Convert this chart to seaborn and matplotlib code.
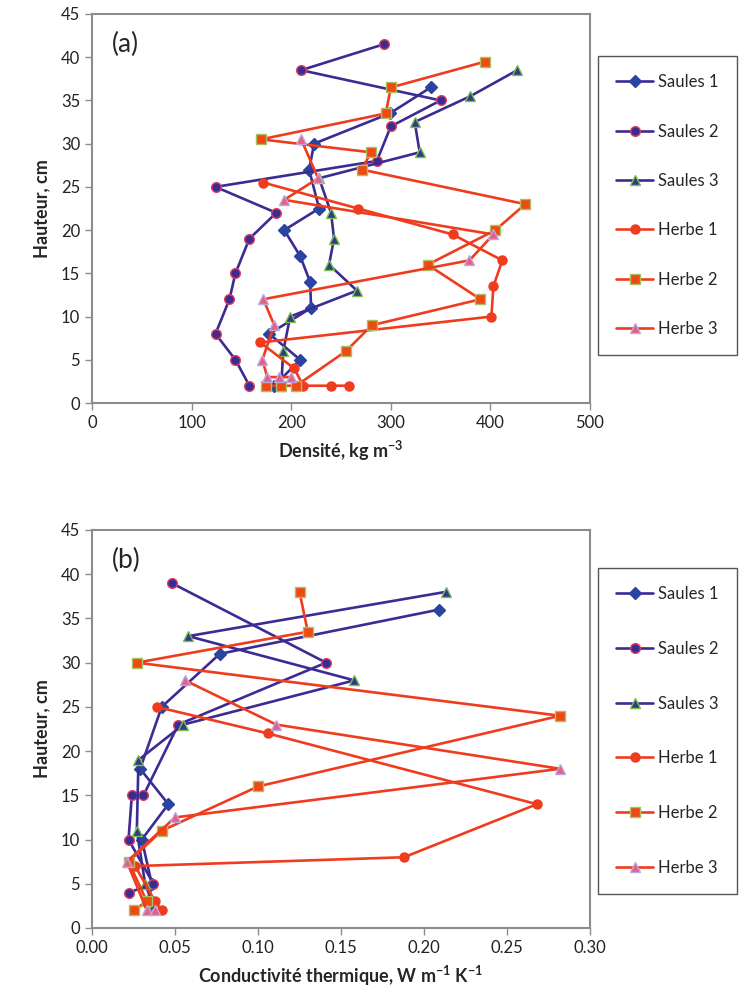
import matplotlib
matplotlib.use("Agg")
import matplotlib.pyplot as plt
import seaborn as sns
import pandas as pd

# ---- data ----
series_names = ["Saules 1", "Saules 2", "Saules 3", "Herbe 1", "Herbe 2", "Herbe 3"]

# (a) density, kg m-3 vs height, cm
dens_saules1 = [340, 299, 223, 218, 228, 193, 209, 219, 220, 178, 209, 183]
h_dens_saules1 = [36.5, 33.5, 30, 27, 22.5, 20, 17, 14, 11, 8, 5, 2]
dens_saules2 = [293, 210, 350, 300, 286, 124, 185, 158, 144, 138, 124, 144, 158]
h_dens_saules2 = [41.5, 38.5, 35, 32, 28, 25, 22, 19, 15, 12, 8, 5, 2]
dens_saules3 = [427, 380, 324, 329, 228, 240, 243, 238, 266, 199, 192, 190]
h_dens_saules3 = [38.5, 35.5, 32.5, 29, 26, 22, 19, 16, 13, 10, 6, 2]
dens_herbe1 = [172, 267, 362, 412, 403, 401, 169, 203, 212, 240, 258]
h_dens_herbe1 = [25.5, 22.5, 19.5, 16.5, 13.5, 10, 7, 4, 2, 2, 2]
dens_herbe2 = [395, 300, 295, 170, 280, 271, 435, 405, 337, 390, 281, 255, 205, 190, 175]
h_dens_herbe2 = [39.5, 36.5, 33.5, 30.5, 29, 27, 23, 20, 16, 12, 9, 6, 2, 2, 2]
dens_herbe3 = [210, 227, 193, 403, 379, 172, 183, 171, 176, 188, 200]
h_dens_herbe3 = [30.5, 26, 23.5, 19.5, 16.5, 12, 9, 5, 3, 3, 3]

# (b) thermal conductivity, W m-1 K-1 vs height, cm
cond_saules1 = [0.209, 0.077, 0.042, 0.029, 0.046, 0.030, 0.036, 0.034]
h_cond_saules1 = [36, 31, 25, 18, 14, 10, 5, 3]
cond_saules2 = [0.048, 0.141, 0.052, 0.031, 0.024, 0.022, 0.037, 0.022]
h_cond_saules2 = [39, 30, 23, 15, 15, 10, 5, 4]
cond_saules3 = [0.213, 0.058, 0.158, 0.055, 0.028, 0.027, 0.032, 0.037]
h_cond_saules3 = [38, 33, 28, 23, 19, 11, 5, 2.5]
cond_herbe1 = [0.039, 0.106, 0.268, 0.188, 0.026, 0.038, 0.042]
h_cond_herbe1 = [25, 22, 14, 8, 7, 3, 2]
cond_herbe2 = [0.125, 0.130, 0.027, 0.282, 0.100, 0.042, 0.022, 0.033, 0.025]
h_cond_herbe2 = [38, 33.5, 30, 24, 16, 11, 7.5, 3, 2]
cond_herbe3 = [0.056, 0.111, 0.282, 0.050, 0.021, 0.033, 0.038]
h_cond_herbe3 = [28, 23, 18, 12.5, 7.5, 2, 2]

dens_x = [dens_saules1, dens_saules2, dens_saules3, dens_herbe1, dens_herbe2, dens_herbe3]
dens_y = [h_dens_saules1, h_dens_saules2, h_dens_saules3, h_dens_herbe1, h_dens_herbe2, h_dens_herbe3]
cond_x = [cond_saules1, cond_saules2, cond_saules3, cond_herbe1, cond_herbe2, cond_herbe3]
cond_y = [h_cond_saules1, h_cond_saules2, h_cond_saules3, h_cond_herbe1, h_cond_herbe2, h_cond_herbe3]

# ---- styles ----
SAULE = "#3d2b94"
HERBE = "#f03c1e"
styles = {
    "Saules 1": dict(color=SAULE, marker="D", mfc="#2a44a0", mec="#2a44a0", ms=6),
    "Saules 2": dict(color=SAULE, marker="o", mfc="#3d2b94", mec="#e0405a", ms=7),
    "Saules 3": dict(color=SAULE, marker="^", mfc="#2e3d8a", mec="#7cbf4a", ms=7),
    "Herbe 1": dict(color=HERBE, marker="o", mfc=HERBE, mec=HERBE, ms=6.5),
    "Herbe 2": dict(color=HERBE, marker="s", mfc="#f04a14", mec="#a8c060", ms=6.5),
    "Herbe 3": dict(color=HERBE, marker="^", mfc="#e86080", mec="#b8a8e8", ms=6.5),
}

sns.set_style("white")
plt.rcParams["font.family"] = ["Lato", "DejaVu Sans"]
plt.rcParams["mathtext.default"] = "regular"

fig = plt.figure(figsize=(7.44, 10), dpi=100)
ax_a = fig.add_axes([92 / 744, 1 - 403 / 1000, 498 / 744, 389 / 1000])
ax_b = fig.add_axes([92 / 744, 1 - 928 / 1000, 498 / 744, 398 / 1000])


def draw_panel(ax, xs, ys):
    for name, x, y in zip(series_names, xs, ys):
        df = pd.DataFrame({"x": x, "y": y})
        st = styles[name]
        sns.lineplot(data=df, x="x", y="y", ax=ax, sort=False, estimator=None,
                     color=st["color"], lw=1.9, marker=st["marker"],
                     markerfacecolor=st["mfc"], markeredgecolor=st["mec"],
                     markeredgewidth=1.0, markersize=st["ms"], label=name)
    ax.set_ylim(0, 45)
    ax.set_yticks(range(0, 46, 5))
    for sp in ax.spines.values():
        sp.set_color("#8c8c8c")
        sp.set_linewidth(1.5)
    ax.tick_params(axis="both", labelsize=12, length=5, width=1.0,
                   color="#8c8c8c", direction="out", bottom=True, left=True,
                   labelcolor="#222222")
    ax.set_ylabel("Hauteur, cm", fontsize=13, fontweight="bold", labelpad=8)
    ax.get_legend().remove()


draw_panel(ax_a, dens_x, dens_y)
ax_a.set_xlim(0, 500)
ax_a.set_xticks(range(0, 501, 100))
ax_a.set_xlabel(r"Densité, kg m$^{-3}$", fontsize=13, fontweight="bold", labelpad=6)
ax_a.text(0.04, 0.955, "(a)", transform=ax_a.transAxes, fontsize=19, va="top", ha="left")

draw_panel(ax_b, cond_x, cond_y)
ax_b.set_xlim(0, 0.30)
ax_b.set_xticks([0, 0.05, 0.10, 0.15, 0.20, 0.25, 0.30])
ax_b.set_xticklabels(["0.00", "0.05", "0.10", "0.15", "0.20", "0.25", "0.30"])
ax_b.set_xlabel(r"Conductivité thermique, W m$^{-1}$ K$^{-1}$", fontsize=13,
                fontweight="bold", labelpad=6)
ax_b.text(0.04, 0.955, "(b)", transform=ax_b.transAxes, fontsize=19, va="top", ha="left")

handles = [l for l in ax_a.get_lines() if l.get_label() in series_names]

for top, spacing in [(56, 2.0), (568, 2.32)]:
    fig.legend(handles, series_names, loc="upper left",
               bbox_to_anchor=(598 / 744, 1 - top / 1000),
               fontsize=12, frameon=True, fancybox=False, edgecolor="#555555",
               framealpha=1, labelspacing=spacing, handlelength=2.2,
               handletextpad=0.3, borderpad=1.1, borderaxespad=0)

fig.savefig("out.png", dpi=100)
